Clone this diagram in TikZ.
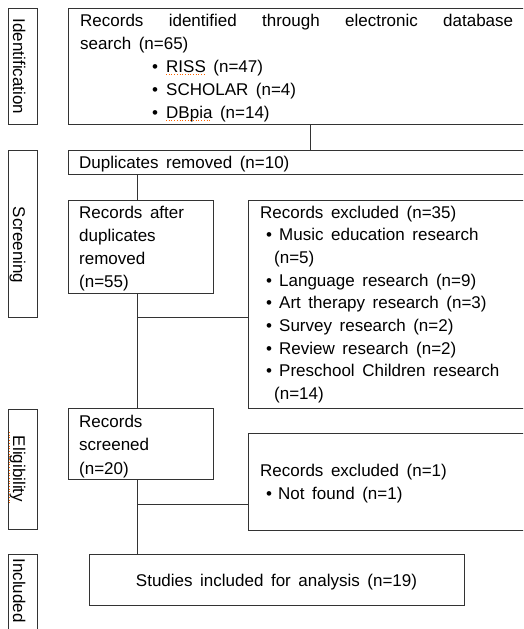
\documentclass[tikz,border=0pt]{standalone}
\usepackage{fontspec}
\setmainfont{Liberation Sans}[WordSpace=1.6]
\newcommand\mybul[1]{\makebox[#1][l]{\textbullet}}
\begin{document}
\begin{tikzpicture}[x=1pt,y=-1pt,
  box/.style={draw=black!80, line width=0.8pt, inner sep=0pt, anchor=north west},
  txt/.style={inner sep=0pt, anchor=base west, font=\fontsize{17}{23}\selectfont},
  link/.style={draw=black!80, line width=0.8pt},
  spell/.style={draw=orange!80!red, line width=0.7pt, dotted}]
\useasboundingbox (0,0) rectangle (523,629);
\clip (0,0) rectangle (523,629);
% phase labels
\node[box, minimum width=29pt, minimum height=116pt] (L1) at (8,8) {};
\node[box, minimum width=29pt, minimum height=167pt] (L2) at (8,150) {};
\node[box, minimum width=29pt, minimum height=120pt] (L3) at (8,409) {};
\node[box, minimum width=29pt, minimum height=100pt] (L4) at (8,554) {};
\node[txt, rotate=-90, anchor=base] (L1t) at (13,66.5) {Identification};
\node[txt, rotate=-90, anchor=base] (L2t) at (13,245) {Screening};
\node[txt, rotate=-90, anchor=base] (L3t) at (13,469) {Eligibility};
\node[txt, rotate=-90, anchor=base] (L4t) at (13,590.5) {Included};
% boxes
\node[box, minimum width=500pt, minimum height=116pt] (A) at (68,8) {};
\node[box, minimum width=500pt, minimum height=24pt] (Dup) at (68,150) {};
\node[box, minimum width=145pt, minimum height=93pt] (B) at (68,200) {};
\node[box, minimum width=320pt, minimum height=208pt] (C) at (248,200) {};
\node[box, minimum width=145pt, minimum height=71pt] (D) at (68,408) {};
\node[box, minimum width=320pt, minimum height=97pt] (E) at (248,433) {};
\node[box, minimum width=375pt, minimum height=51pt] (F) at (89,554) {};
% texts
\node[txt] (At) at (80,27) {\vtop{\baselineskip=23pt
  \hbox to 433pt{Records\hfill identified\hfill through\hfill electronic\hfill database}
  \hbox{search (n=65)}
  \hbox{\hspace*{72pt}\mybul{14pt}RISS (n=47)}
  \hbox{\hspace*{72pt}\mybul{14pt}SCHOLAR (n=4)}
  \hbox{\hspace*{72pt}\mybul{14pt}DBpia (n=14)}}};
\node[txt] (Dupt) at (79,168) {Duplicates removed (n=10)};
\node[txt] (Bt) at (79,218) {\vtop{\baselineskip=23.3pt
  \hbox{Records after}\hbox{duplicates}\hbox{removed}\hbox{(n=55)}}};
\node[txt] (Ct) at (260,218) {\vtop{\baselineskip=22.7pt
  \hbox{Records excluded (n=35)}
  \hbox{\hspace*{6pt}\mybul{13pt}Music education research}
  \hbox{\hspace*{14pt}(n=5)}
  \hbox{\hspace*{6pt}\mybul{13pt}Language research (n=9)}
  \hbox{\hspace*{6pt}\mybul{13pt}Art therapy research (n=3)}
  \hbox{\hspace*{6pt}\mybul{13pt}Survey research (n=2)}
  \hbox{\hspace*{6pt}\mybul{13pt}Review research (n=2)}
  \hbox{\hspace*{6pt}\mybul{13pt}Preschool Children research}
  \hbox{\hspace*{14pt}(n=14)}}};
\node[txt] (Dt) at (79,427) {\vtop{\baselineskip=23.5pt
  \hbox{Records}\hbox{screened}\hbox{(n=20)}}};
\node[txt] (Et) at (260,476) {\vtop{\baselineskip=23pt
  \hbox{Records excluded (n=1)}
  \hbox{\hspace*{6pt}\mybul{12pt}Not found (n=1)}}};
\node[txt, anchor=base] (Ft) at (276.5,586) {Studies included for analysis (n=19)};
% spell-check marks
\coordinate (s1a) at (166,74.5); \coordinate (s1b) at (206,74.5);
\coordinate (s2a) at (166,120); \coordinate (s2b) at (210,120);
\coordinate (s3a) at (9.5,432); \coordinate (s3b) at (9.5,503);
\draw[spell] (s1a) -- (s1b);
\draw[spell] (s2a) -- (s2b);
\draw[spell] (s3a) -- (s3b);
% connectors
\coordinate (xa) at (310,0);
\coordinate (xb) at (137,0);
\coordinate (j1) at (137,317);
\coordinate (j2) at (137,504);
\draw[link] (xa |- A.south) -- (xa |- Dup.north);
\draw[link] (xb |- Dup.south) -- (xb |- B.north);
\draw[link] (xb |- B.south) -- (xb |- D.north);
\draw[link] (j1) -- (j1 -| C.west);
\draw[link] (xb |- D.south) -- (xb |- F.north);
\draw[link] (j2) -- (j2 -| E.west);
\end{tikzpicture}
\end{document}
